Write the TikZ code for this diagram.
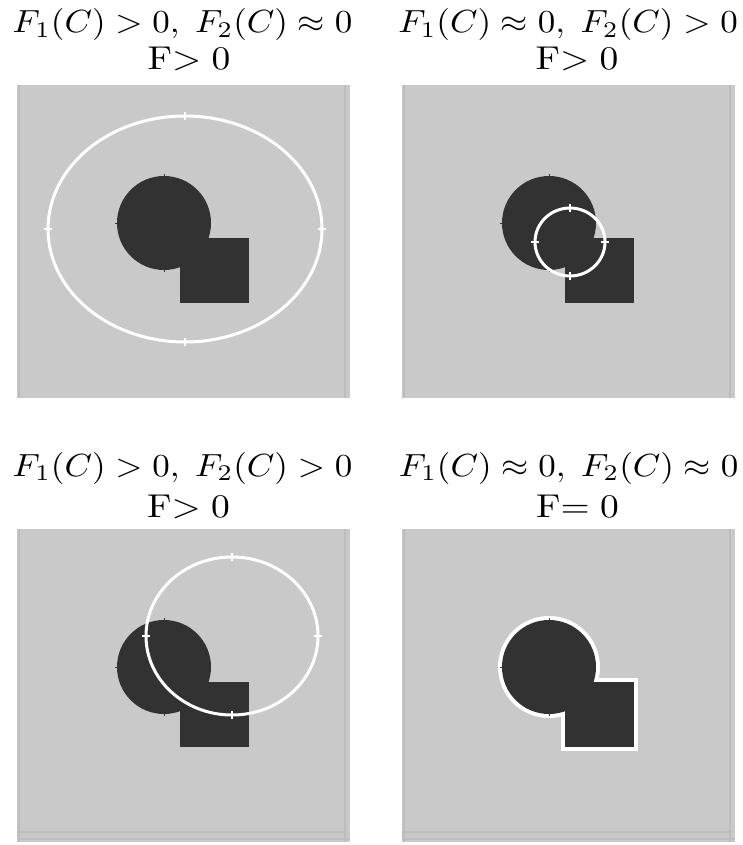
\documentclass[tikz,border=0pt]{standalone}
\usepackage{graphicx}
\usepackage{amsmath,amssymb}
\newcommand{\ttlA}[1]{\scalebox{3.5}[3.2]{#1}}
\newcommand{\ttlB}[1]{\scalebox{3.75}[3.3]{#1}}
\begin{document}
\begin{tikzpicture}[x=1pt,y=-1pt,
  ttl/.style={inner sep=0pt,anchor=base},
  edge/.style={draw=edgec,line width=2.5pt},
  contour/.style={draw=white,line width=3pt},
  tick/.style={draw=white,line width=1.2pt}]
\definecolor{bg}{HTML}{C9C9C9}
\definecolor{edgec}{HTML}{BDBDBD}
\definecolor{dark}{HTML}{323232}
\useasboundingbox (0,0) rectangle (742,845);
\fill[white] (0,0) rectangle (742,845);
% titles
\node[ttl] (t1a) at (182.5,33) {\ttlA{$F_1(C)>0,\;F_2(C)\approx0$}};
\node[ttl] (t1b) at (189,70) {\ttlB{F$>0$}};
\node[ttl] (t2a) at (568,33) {\ttlA{$F_1(C)\approx0,\;F_2(C)>0$}};
\node[ttl] (t2b) at (577,70) {\ttlB{F$>0$}};
\node[ttl] (t3a) at (182.5,476) {\ttlA{$F_1(C)>0,\;F_2(C)>0$}};
\node[ttl] (t3b) at (188.5,517) {\ttlB{F$>0$}};
\node[ttl] (t4a) at (568.5,476) {\ttlA{$F_1(C)\approx0,\;F_2(C)\approx0$}};
\node[ttl] (t4b) at (577.5,517) {\ttlB{F$=0$}};
% panels
\foreach \bx/\by/\bb in {17/85/0,402/85/0,17/529/1,402/529/1}{
  \begin{scope}[shift={(\bx,\by)}]
    \fill[bg] (0,0) rectangle (333,313);
    \draw[edge] (2,0) -- (2,313);
    \draw[edge] (328,0) -- (328,313);
    \ifnum\bb=1
      \draw[edge] (0,303) -- (330,303);
      \draw[edge] (0,310) -- (333,310);
    \fi
  \end{scope}
}
% panel 4 outline (drawn under the object)
\begin{scope}[shift={(402,529)}]
  \draw[white,line width=8pt,line join=miter] (147,138) circle[radius=47];
  \draw[white,line width=8pt,line join=miter] (163,153) rectangle (232,218);
\end{scope}
% objects
\foreach \bx/\by in {17/85,402/85,17/529,402/529}{
  \begin{scope}[shift={(\bx,\by)}]
    \fill[dark] (147,138) circle[radius=47];
    \fill[dark] (163,153) rectangle (232,218);
    \draw[dark,line width=1pt] (147,89) -- (147,92) (98,138) -- (101,138) (147,187) -- (147,184);
  \end{scope}
}
% white contours
\draw[contour] (185,229) ellipse[x radius=137,y radius=113];
\draw[tick] (185,112) -- (185,120) (185,338) -- (185,346) (44,229) -- (52,229) (318,229) -- (326,229);
\draw[contour] (570,242) ellipse[x radius=35,y radius=34];
\draw[tick] (570,204) -- (570,212) (570,272) -- (570,280) (531,242) -- (539,242) (601,242) -- (609,242);
\draw[contour] (232,636) ellipse[x radius=86,y radius=79];
\draw[tick] (232,553) -- (232,561) (232,711) -- (232,719) (142,636) -- (150,636) (314,636) -- (322,636);
\end{tikzpicture}
\end{document}
